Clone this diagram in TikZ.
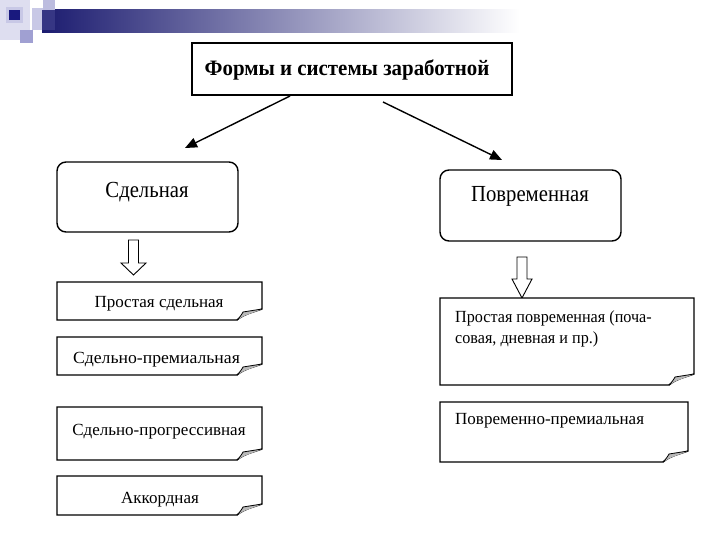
\documentclass[tikz,border=0pt]{standalone}
\usepackage{fontspec}
\usepackage{graphicx}
\setmainfont{Liberation Serif}
\usetikzlibrary{arrows.meta}
\definecolor{navy}{RGB}{28,28,112}
\definecolor{lav}{RGB}{200,200,230}
\definecolor{lav2}{RGB}{160,160,210}
\newcommand{\cz}[2]{\scalebox{#1}[1]{#2}}
\tikzset{
  rbox/.style={draw,line width=1.4pt,rounded corners=9pt},
  lbl/.style={inner sep=0pt,anchor=center},
  harrow/.style={draw,line width=0.9pt,fill=white},
  conn/.style={line width=1.4pt,-{Triangle[length=12pt,width=10pt]}},
}
\newcommand{\docbox}[5]{% name, x1,y1,x2,y2
  \coordinate (#1-nw) at (#2,#3);
  \coordinate (#1-se) at (#4,#5);
  \draw[line width=1.4pt,fill=white] (#2,#3) -- (#4,#3) -- (#4,#5-11) .. controls (#4-8,#5-8) and (#4-18,#5-6) .. (#4-25,#5) -- (#2,#5) -- cycle;
  \fill[gray!55] (#4,#5-11) .. controls (#4-8,#5-7) and (#4-16,#5-6) .. (#4-25,#5) .. controls (#4-22,#5-3) and (#4-20,#5-6) .. (#4-19,#5-8) -- cycle;
  \draw[line width=0.8pt] (#4,#5-11) -- (#4-19,#5-8) .. controls (#4-20,#5-6) and (#4-22,#5-3) .. (#4-25,#5);
}
\newcommand{\hollow}[7]{% x shaft left, x shaft right, top, headtop, head left, head right, tip y
  \draw[harrow] (#1,#3) -- (#2,#3) -- (#2,#4) -- (#6,#4) -- ({(#5+#6)/2},#7) -- (#5,#4) -- (#1,#4) -- cycle;
}
\begin{document}
\begin{tikzpicture}[x=1pt,y=-1pt]
\useasboundingbox (0,0) rectangle (720,540);
\fill[white] (0,0) rectangle (720,540);
% banner
\fill[lav!60] (0,0) rectangle (30,40);
\shade[left color=navy,right color=white] (42,10) rectangle (520,33);
\fill[white] (520,10) rectangle (720,33);
\fill[lav] (32,8) rectangle (55,30);
\fill[lav2!70] (43,0) rectangle (55,10);
\fill[navy!80!lav2] (42,10) rectangle (55,30);
\fill[lav] (6,7) rectangle (23,23);
\fill[navy!90!blue] (9,10) rectangle (20,20);
\fill[lav2] (20,30) rectangle (33,43);
% title
\node[draw,line width=1.5pt,minimum width=320pt,minimum height=52pt,inner sep=0pt] (title) at (352,69) {};
\node[lbl,font=\bfseries\fontsize{22}{24}\selectfont] (tt) at (347,70) {\cz{0.95}{Формы и системы заработной}};
% level 2
\node[rbox,minimum width=181pt,minimum height=70pt] (sd) at (147.5,197) {};
\node[lbl,font=\fontsize{23}{26}\selectfont] (sdt) at (147,192) {\cz{0.9}{Сдельная}};
\node[rbox,minimum width=181pt,minimum height=71pt] (pv) at (530.5,205.5) {};
\node[lbl,font=\fontsize{23}{26}\selectfont] (pvt) at (530,196) {\cz{0.9}{Повременная}};
% connectors
\coordinate (a1s) at (290,96);
\coordinate (a1e) at (185,148);
\coordinate (a2s) at (383,102);
\coordinate (a2e) at (502,160);
\draw[conn] (a1s) -- (a1e);
\draw[conn] (a2s) -- (a2e);
% hollow arrows
\hollow{128.5}{138.5}{240}{263}{121}{146}{275}
\hollow{517}{527}{257}{279}{512}{532}{298}
% left docs
\docbox{d1}{57}{282}{262}{320}
\node[lbl,font=\fontsize{17}{20}\selectfont] (d1t) at (159,304) {Простая сдельная};
\docbox{d2}{57}{337}{262}{375}
\node[lbl,font=\fontsize{17}{20}\selectfont] (d2t) at (156.5,360) {\cz{1.04}{Сдельно-премиальная}};
\docbox{d3}{57}{407}{262}{460}
\node[lbl,font=\fontsize{17}{20}\selectfont] (d3t) at (159,432) {Сдельно-прогрессивная};
\docbox{d4}{57}{476}{262}{515}
\node[lbl,font=\fontsize{17}{20}\selectfont] (d4t) at (160,500) {Аккордная};
% right docs
\docbox{d5}{440}{298}{694}{385}
\node[anchor=north west,inner sep=0pt,align=left,font=\fontsize{17}{20.5}\selectfont] (d5t) at (455,311) {\cz{0.95}{Простая повременная (поча-}\\\cz{0.95}{совая, дневная и пр.)}};
\docbox{d6}{440}{402}{688}{462}
\node[anchor=north west,inner sep=0pt,font=\fontsize{17}{20}\selectfont] (d6t) at (455,413) {Повременно-премиальная};
\end{tikzpicture}
\end{document}
